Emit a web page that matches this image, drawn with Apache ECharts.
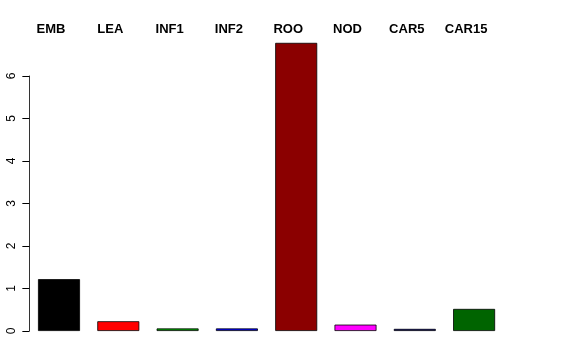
<!DOCTYPE html>
<html>
<head>
<meta charset="utf-8">
<script src="https://cdn.jsdelivr.net/npm/echarts@6/dist/echarts.min.js"></script>
<style>html,body{margin:0;padding:0;background:#fff;}#c{width:576px;height:360px;}</style>
</head>
<body>
<div id="c"></div>
<script>
const categories = ['EMB', 'LEA', 'INF1', 'INF2', 'ROO', 'NOD', 'CAR5', 'CAR15'];
const values = [1.22, 0.23, 0.06, 0.06, 6.78, 0.15, 0.05, 0.52];
const barColors = ['#000000', '#FF0000', '#00A000', '#0000FF', '#8B0000', '#FF00FF', '#00008B', '#006400'];
const yTicks = [0, 1, 2, 3, 4, 5, 6];

const chart = echarts.init(document.getElementById('c'), null, {renderer: 'canvas'});
const L = 29.35, R = 72.25, B = 29;
chart.setOption({
  animation: false,
  backgroundColor: '#ffffff',
  grid: [
    {left: L, right: R, top: 33.5, bottom: B, containLabel: false},
    {left: L, right: R, top: 76, bottom: B, containLabel: false}
  ],
  xAxis: [
    {type: 'category', gridIndex: 0, data: categories, show: false},
    {type: 'category', gridIndex: 1, data: categories, position: 'top',
     axisLine: {show: false}, axisTick: {show: false},
     axisLabel: {interval: 0, margin: 40, fontFamily: 'Liberation Sans', fontWeight: 'bold', fontSize: 13, color: '#000',
       padding: [0, 16, 0, 0], align: 'center'}}
  ],
  yAxis: [
    {type: 'value', gridIndex: 0, min: 0, max: 7, interval: 1, show: false},
    {type: 'value', gridIndex: 1, min: 0, max: 6, interval: 1,
     axisLine: {show: true, lineStyle: {color: '#333', width: 1}},
     axisTick: {show: true, length: 7, lineStyle: {color: '#000'}},
     splitLine: {show: false},
     axisLabel: {rotate: 90, margin: 12, fontFamily: 'Liberation Sans', fontSize: 12, color: '#000',
       formatter: v => (yTicks.indexOf(v) >= 0 ? String(v) : '')}}
  ],
  series: [{
    type: 'bar', xAxisIndex: 0, yAxisIndex: 0, barWidth: 42,
    data: values.map((v, i) => ({value: v, itemStyle: {color: barColors[i]}})),
    itemStyle: {borderColor: '#000', borderWidth: 0.8}
  }]
});
</script>
</body>
</html>
